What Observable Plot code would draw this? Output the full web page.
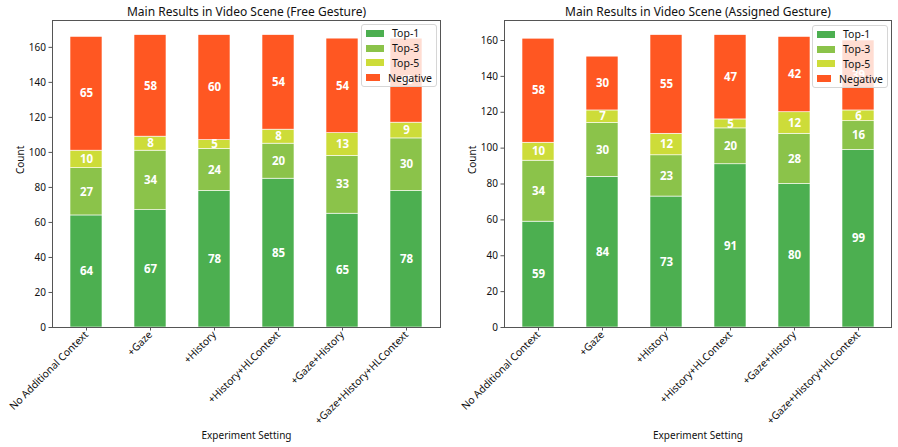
<!DOCTYPE html>
<html>
<head>
<meta charset="utf-8">
<script src="https://cdn.jsdelivr.net/npm/d3@7"></script>
<script src="https://cdn.jsdelivr.net/npm/@observablehq/plot@0.6"></script>
<style>
  body { margin: 0; background: white; }
  #wrap { position: relative; width: 898px; height: 447px; display: flex; font-family: "Noto Sans", sans-serif; }
  .legend { position: absolute; background: rgba(255,255,255,0.8); border: 1px solid #d6d6d6; border-radius: 3px;
            box-sizing: border-box; padding: 1px 4px; font-size: 10.5px; color: #111; }
  .legend .row { display: flex; align-items: center; height: 14.8px; }
  .legend .sw { width: 18px; height: 7px; margin-right: 8px; }
</style>
</head>
<body>
<div id="wrap"></div>
<script>
const categories = ["No Additional Context", "+Gaze", "+History", "+History+HLContext", "+Gaze+History", "+Gaze+History+HLContext"];
const series = ["Top-1", "Top-3", "Top-5", "Negative"];
const seriesColors = ["#4CAF50", "#8BC34A", "#CDDC39", "#FF5722"];

// Free Gesture
const freeTop1 = [64, 67, 78, 85, 65, 78];
const freeTop3 = [27, 34, 24, 20, 33, 30];
const freeTop5 = [10, 8, 5, 8, 13, 9];
const freeNegative = [65, 58, 60, 54, 54, 48];

// Assigned Gesture
const assignedTop1 = [59, 84, 73, 91, 80, 99];
const assignedTop3 = [34, 30, 23, 20, 28, 16];
const assignedTop5 = [10, 7, 12, 5, 12, 6];
const assignedNegative = [58, 30, 55, 47, 42, 39];

const yTicks = [0, 20, 40, 60, 80, 100, 120, 140, 160];
const titles = ["Main Results in Video Scene (Free Gesture)", "Main Results in Video Scene (Assigned Gesture)"];

function buildRows(arrays) {
  const rows = [];
  categories.forEach((c, i) => {
    let acc = 0;
    arrays.forEach((arr, s) => {
      const v = arr[i];
      rows.push({category: c, series: series[s], value: v, y1: acc, y2: acc + v, mid: acc + v / 2});
      acc += v;
    });
  });
  return rows;
}

function makeChart(arrays, title, mLeft, mRight) {
  const rows = buildRows(arrays);
  const totals = categories.map((c, i) => d3.sum(arrays, a => a[i]));
  const ymax = d3.max(totals) * 1.05;
  return Plot.plot({
    width: 449,
    height: 447,
    marginLeft: mLeft,
    marginRight: mRight,
    marginTop: 20,
    marginBottom: 120,
    style: {fontFamily: "'Noto Sans', sans-serif", fontSize: "10px", color: "#111", background: "white"},
    x: {type: "band", domain: categories, paddingInner: 0.5, paddingOuter: 0.25, label: null},
    y: {domain: [0, ymax], label: null},
    color: {domain: series, range: seriesColors},
    marks: [
      Plot.barY(rows, {x: "category", y1: "y1", y2: "y2", fill: "series", stroke: "white", strokeWidth: 0.6}),
      Plot.text(rows, {x: "category", y: "mid", text: d => String(d.value), fill: "white", fontWeight: "bold", fontSize: 11.5}),
      Plot.frame({stroke: "#555", strokeWidth: 1}),
      Plot.axisY({ticks: yTicks, tickSize: 3.5, tickPadding: 3, stroke: "#555", fill: "#111", label: null, fontSize: 10}),
      Plot.axisX({tickRotate: -45, tickSize: 3.5, tickPadding: 2, stroke: "#555", fill: "#111", label: null, fontSize: 10.3}),
      Plot.text([title], {frameAnchor: "top", dy: -5, lineAnchor: "bottom", fontSize: 12, fill: "#111"}),
      Plot.text(["Count"], {frameAnchor: "left", dx: -32, rotate: -90, fontSize: 10, fill: "#111"}),
      Plot.text(["Experiment Setting"], {frameAnchor: "bottom", dy: 108, lineAnchor: "middle", fontSize: 10, fill: "#111"})
    ]
  });
}

const wrap = document.getElementById("wrap");
wrap.appendChild(makeChart([freeTop1, freeTop3, freeTop5, freeNegative], titles[0], 52, 9));
wrap.appendChild(makeChart([assignedTop1, assignedTop3, assignedTop5, assignedNegative], titles[1], 55, 7));

function addLegend(left, top) {
  const lg = document.createElement("div");
  lg.className = "legend";
  lg.style.left = left + "px";
  lg.style.top = top + "px";
  lg.style.width = "76px";
  series.forEach((s, i) => {
    const row = document.createElement("div");
    row.className = "row";
    const sw = document.createElement("div");
    sw.className = "sw";
    sw.style.background = seriesColors[i];
    const t = document.createElement("span");
    t.textContent = s;
    row.appendChild(sw);
    row.appendChild(t);
    lg.appendChild(row);
  });
  wrap.appendChild(lg);
}
addLegend(361, 24);
addLegend(812, 25);
</script>
</body>
</html>
